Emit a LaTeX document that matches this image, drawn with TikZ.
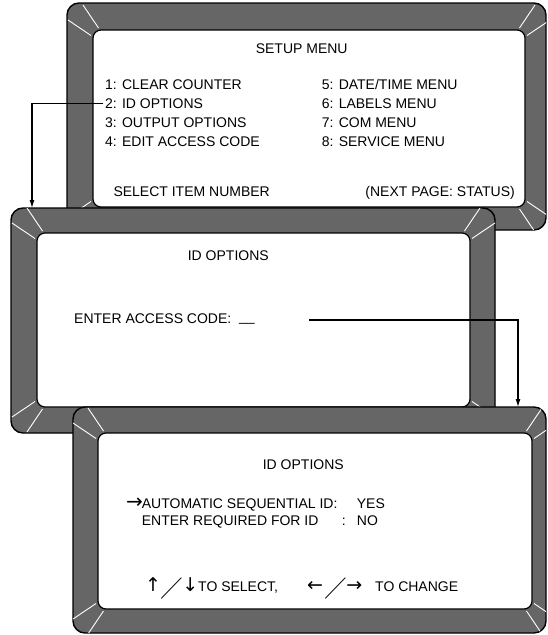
\documentclass[tikz,border=0pt]{standalone}
\usepackage{amssymb}
\usepackage{fontspec}
\setmainfont{Liberation Sans}
\newfontfamily\symfont{DejaVu Sans}
\usetikzlibrary{positioning, arrows.meta}

\definecolor{bezelgrey}{HTML}{666666}

\tikzset{
  bezel/.style={draw=black, line width=1.4pt, fill=bezelgrey, rounded corners=12pt,
    inner sep=0pt, outer sep=0pt},
  glass/.style={draw=black, line width=1.2pt, fill=white, rounded corners=8pt,
    inner sep=0pt, outer sep=0pt},
  glint/.style={white, line width=0.9pt},
  txt/.style={inner sep=0pt, anchor=base west, font=\fontsize{14}{16}\selectfont},
  keys/.style={txt, font=\symfont\fontsize{19}{19}\selectfont},
  link/.style={line width=1.1pt, -{Latex[length=8pt,width=5pt]}},
}

% white light streaks in the four corners of a screen
\newcommand{\glints}[2]{%
  \begin{scope}
    \clip[rounded corners=12pt] (#2.north west) rectangle (#2.south east);
    \foreach \a/\sx/\sy in {north west/1/1, north east/-1/1, south west/1/-1, south east/-1/-1} {
      \draw[glint] ([shift={(-25*\sx,-10*\sy)}]#1.\a) -- ([shift={(-2*\sx,5.5*\sy)}]#1.\a);
      \draw[glint] ([shift={(-10*\sx,-25*\sy)}]#1.\a) -- ([shift={(5.5*\sx,-2*\sy)}]#1.\a);
    }
  \end{scope}}
% long slash between two key arrows
\newcommand{\keyslash}{\raisebox{-2.5pt}{\fontsize{24}{24}\selectfont$\diagup$}}

\begin{document}
\begin{tikzpicture}[x=1pt, y=-1pt]
  \useasboundingbox (0,0) rectangle (547,635);
  \clip (0,0) rectangle (547,635);

  % Screens
  % -- setup menu
  \node [bezel, minimum width=479pt, minimum height=227pt] (setupbezel) at (306.5,116.5) {};%
  \node [glass, minimum width=432pt, minimum height=177pt] (setupscr) at (309,118.5) {};%
  \glints{setupscr}{setupbezel}
  \node [txt, anchor=base] (setuptitle) at (301.7,53) {SETUP MENU};%
  \node [txt] (opt1) at (105,89) {1: CLEAR COUNTER};%
  \node [txt] (opt2) at ([yshift=-19pt]opt1.base west) {2: ID OPTIONS};%
  \node [txt] (opt3) at ([yshift=-19pt]opt2.base west) {3: OUTPUT OPTIONS};%
  \node [txt] (opt4) at ([yshift=-19pt]opt3.base west) {4: EDIT ACCESS CODE};%
  \node [txt] (opt5) at (321.7,89) {5: DATE/TIME MENU};%
  \node [txt] (opt6) at ([yshift=-19pt]opt5.base west) {6: LABELS MENU};%
  \node [txt] (opt7) at ([yshift=-19pt]opt6.base west) {7: COM MENU};%
  \node [txt] (opt8) at ([yshift=-19pt]opt7.base west) {8: SERVICE MENU};%
  \node [txt] (selitem) at (113.3,196.5) {SELECT ITEM NUMBER};%
  \node [txt, anchor=base east] (nextpage) at (515,196.5) {(NEXT PAGE: STATUS)};%

  % -- access code
  \node [bezel, minimum width=484pt, minimum height=225pt] (codebezel) at (253,320.5) {};%
  \node [glass, minimum width=433pt, minimum height=174pt] (codescr) at (253.5,320) {};%
  \glints{codescr}{codebezel}
  \node [txt, anchor=base] (codetitle) at (228.3,260.5) {ID OPTIONS};%
  \node [txt] (code) at (74,323) {ENTER ACCESS CODE:\ \ \raisebox{1.5pt}{\_\_}};%
  \coordinate (tap) at (309,320);

  % -- id options
  \node [bezel, minimum width=473pt, minimum height=226pt] (idbezel) at (309.5,520) {};%
  \node [glass, minimum width=434pt, minimum height=176pt] (idscr) at (315,521) {};%
  \glints{idscr}{idbezel}
  \node [txt, anchor=base] (idtitle) at (303.3,469) {ID OPTIONS};%
  \node [keys, font=\symfont\fontsize{20}{20}\selectfont] (cursor) at (126,508) {→};%
  \node [txt] (autoseq) at (141.7,508) {AUTOMATIC SEQUENTIAL ID:};%
  \node [txt] (yes) at (356.7,508) {YES};%
  \node [txt] (enterreq) at (141.7,525.5) {ENTER REQUIRED FOR ID};%
  \node [txt] (colon) at (341.7,525.5) {:};%
  \node [txt] (no) at (356.7,525.5) {NO};%
  \node [keys] (updown) at (145,591.5) {↑\keyslash↓};%
  \node [txt] (toselect) at (198,591.5) {TO SELECT,};%
  \node [keys] (leftright) at (307,591.5) {←\kern2pt\keyslash→};%
  \node [txt] (tochange) at (375,591.5) {TO CHANGE};%

  % arrows
  \draw [link] ([xshift=-2pt]opt2.west) -| ([xshift=21pt]codebezel.north west);%
  \draw [link] (tap) -| ([xshift=-28pt]idbezel.north east);%
\end{tikzpicture}
\end{document}
